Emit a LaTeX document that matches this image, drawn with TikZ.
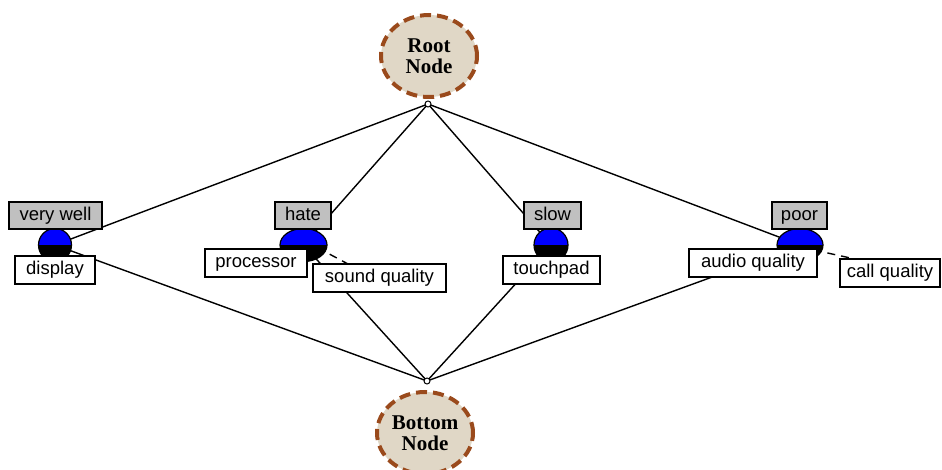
\documentclass[tikz,border=0pt]{standalone}
\usepackage{fontspec}
\setmainfont{Liberation Serif}
\setsansfont{Liberation Sans}
\usetikzlibrary{calc,shapes.geometric}
\definecolor{beige}{HTML}{E0D7C6}
\definecolor{rust}{HTML}{9A4A1C}
\definecolor{boxgray}{HTML}{C0C0C0}
\begin{document}
\begin{tikzpicture}[x=1pt,y=-1pt,
  edge/.style={line width=1.4pt,black},
  dashedge/.style={line width=1.4pt,black,dash pattern=on 8pt off 6pt},
  bignode/.style={ellipse,draw=rust,fill=beige,line width=4pt,dash pattern=on 11pt off 6pt,
    minimum width=96pt,minimum height=82pt,inner sep=0pt,align=center,
    font=\fontsize{21}{21}\selectfont\bfseries},
  junction/.style={circle,draw=black,fill=white,line width=1pt,minimum size=6pt,inner sep=0pt},
  graybox/.style={rectangle,draw=black,fill=boxgray,line width=1.4pt,inner sep=0pt,
    minimum height=27pt,text height=13.5pt,text depth=4pt,font=\sffamily\fontsize{18.5}{20}\selectfont},
  whitebox/.style={rectangle,draw=black,fill=white,line width=1.4pt,inner sep=0pt,
    minimum height=28pt,text height=13.5pt,text depth=4pt,font=\sffamily\fontsize{18.5}{20}\selectfont}
]
\useasboundingbox (0,0) rectangle (942,470);

% big nodes
\node[bignode] (root) at (429,56) {Root\\Node};
\node[bignode] (bottom) at (425,433) {Bottom\\Node};

% ball coordinates
\coordinate (vwc) at (55,245);
\coordinate (hac) at (303.5,245);
\coordinate (slc) at (551,245);
\coordinate (poc) at (800,245);

\coordinate (rj) at (428,104);
\coordinate (bj) at (427,381);

% connectors (drawn behind)
\draw[edge] (rj) -- (vwc);
\draw[edge] (rj) -- (hac);
\draw[edge] (rj) -- (slc);
\draw[edge] (rj) -- (poc);
\draw[edge] (bj) -- (vwc);
\draw[edge] (bj) -- (hac);
\draw[edge] (bj) -- (slc);
\draw[edge] (bj) -- (poc);

\coordinate (hd1) at (305,241);
\coordinate (hd2) at (348,264);
\coordinate (pd1) at (800,247);
\coordinate (pd2) at (855,259);
\draw[dashedge] (hd1) -- (hd2);
\draw[dashedge] (pd1) -- (pd2);

% balls: black lower half, blue upper half
\foreach \c/\rx/\ry in {vwc/16.5/16.5, hac/23.5/16.5, slc/17/17, poc/23/16.5}{
  \fill[black] (\c) ellipse [x radius=\rx, y radius=\ry];
  \begin{scope}
    \clip ($(\c)+(-\rx-2,-\ry-2)$) rectangle ($(\c)+(\rx+2,0)$);
    \fill[blue] (\c) ellipse [x radius=\rx, y radius=\ry];
  \end{scope}
  \draw[black,line width=1.2pt] (\c) ellipse [x radius=\rx, y radius=\ry];
}

% label boxes
\node[graybox,minimum width=93pt] (vw) at (55.5,215.5) {very well};
\node[graybox,minimum width=56pt] (hate) at (303,215.5) {hate};
\node[graybox,minimum width=57pt] (slow) at (552.5,215.5) {slow};
\node[graybox,minimum width=55pt] (poor) at (799.5,215.5) {poor};

\node[whitebox,minimum width=80pt] (disp) at (55,270) {display};
\node[whitebox,minimum width=102pt] (proc) at (256,263) {processor};
\node[whitebox,minimum width=133pt] (sq) at (379.5,278) {sound quality};
\node[whitebox,minimum width=97pt] (tp) at (551.5,270) {touchpad};
\node[whitebox,minimum width=128pt] (aq) at (753,263) {audio quality};
\node[whitebox,minimum width=100pt] (cq) at (890,273) {call quality};

\node[junction] (rjn) at (rj) {};
\node[junction] (bjn) at (bj) {};
\end{tikzpicture}
\end{document}
